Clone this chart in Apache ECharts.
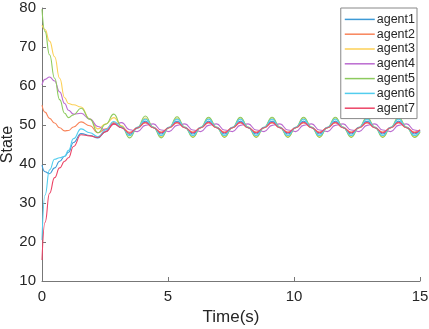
<!DOCTYPE html>
<html>
<head>
<meta charset="utf-8">
<script src="https://cdn.jsdelivr.net/npm/echarts@6/dist/echarts.min.js"></script>
<style>
html, body { margin: 0; padding: 0; background: #fff; }
#chart { width: 429px; height: 329px; }
</style>
</head>
<body>
<div id="chart"></div>
<script>
// time samples (s)
var timeS = [0, 0.12, 0.3, 0.5, 0.7, 0.9, 1.05, 1.25, 1.55, 1.9, 2.22, 2.53,
    2.85, 3.16, 3.48, 3.79,
    4.10, 4.42, 4.73, 5.04,
    5.36, 5.67, 5.99, 6.30,
    6.61, 6.93, 7.24, 7.56,
    7.87, 8.18, 8.50, 8.81,
    9.13, 9.44, 9.76, 10.07,
    10.38, 10.70, 11.01, 11.33,
    11.64, 11.95, 12.27, 12.58,
    12.90, 13.21, 13.52, 13.84,
    14.15, 14.47, 14.78, 15.0];

var agentNames = ['agent1', 'agent2', 'agent3', 'agent4', 'agent5', 'agent6', 'agent7'];
var agentColors = ['#3d9ad6', '#f8845a', '#fcd056', '#bb6bd0', '#8dca5e', '#52cdee', '#ec4466'];

var agent1 = [39.7, 38.0, 37.5, 39.0, 40.7, 42.0, 43.0, 45.5, 47.8, 47.3, 46.7, 48.3,
    50.4, 49.3, 47.6, 49.2,
    51.0, 49.3, 47.7, 49.3,
    51.0, 49.3, 47.7, 49.3,
    51.0, 49.3, 47.7, 49.3,
    51.0, 49.3, 47.7, 49.3,
    51.0, 49.3, 47.7, 49.3,
    51.0, 49.3, 47.7, 49.3,
    51.0, 49.3, 47.7, 49.3,
    51.0, 49.3, 47.7, 49.3,
    51.0, 49.3, 47.7, 48.6];
var agent2 = [55.1, 53.3, 51.7, 50.5, 49.3, 48.5, 48.6, 49.5, 50.8, 49.8, 48.0, 49.0,
    50.6, 49.4, 48.1, 49.3,
    50.5, 49.3, 48.2, 49.3,
    50.5, 49.3, 48.2, 49.3,
    50.5, 49.3, 48.2, 49.3,
    50.5, 49.3, 48.2, 49.3,
    50.5, 49.3, 48.2, 49.3,
    50.5, 49.3, 48.2, 49.3,
    50.5, 49.3, 48.2, 49.3,
    50.5, 49.3, 48.2, 49.3,
    50.5, 49.3, 48.2, 48.8];
var agent3 = [75.6, 74.5, 71.5, 67.5, 62.0, 57.0, 55.5, 55.2, 54.6, 51.5, 49.0, 50.3,
    51.9, 49.8, 47.2, 49.3,
    51.8, 49.5, 47.0, 49.3,
    51.8, 49.5, 47.0, 49.3,
    51.8, 49.5, 47.0, 49.3,
    51.8, 49.5, 47.0, 49.3,
    51.8, 49.5, 47.0, 49.3,
    51.8, 49.5, 47.0, 49.3,
    51.8, 49.5, 47.0, 49.3,
    51.8, 49.5, 47.0, 49.3,
    51.8, 49.5, 47.0, 48.3];
var agent4 = [60.3, 61.7, 62.3, 61.3, 58.5, 55.5, 53.8, 52.8, 53.0, 51.5, 49.6, 48.7,
    50.2, 50.6, 48.8, 48.3,
    49.9, 50.3, 48.7, 48.3,
    49.9, 50.3, 48.7, 48.3,
    49.9, 50.3, 48.7, 48.3,
    49.9, 50.3, 48.7, 48.3,
    49.9, 50.3, 48.7, 48.3,
    49.9, 50.3, 48.7, 48.3,
    49.9, 50.3, 48.7, 48.3,
    49.9, 50.3, 48.7, 48.3,
    49.9, 50.3, 48.7, 48.2];
var agent5 = [79.7, 74.0, 68.0, 62.0, 56.5, 53.0, 51.9, 52.6, 54.3, 51.5, 48.0, 50.2,
    52.8, 49.6, 46.7, 49.4,
    52.3, 49.4, 46.7, 49.4,
    52.1, 49.4, 46.8, 49.4,
    52.0, 49.4, 46.8, 49.4,
    52.0, 49.4, 46.8, 49.4,
    52.0, 49.4, 46.8, 49.4,
    52.0, 49.4, 46.8, 49.4,
    52.0, 49.4, 46.8, 49.4,
    52.0, 49.4, 46.8, 49.4,
    52.0, 49.4, 46.8, 48.2];
var agent6 = [20.5, 32.0, 38.5, 41.2, 41.6, 42.0, 43.5, 46.5, 49.0, 48.0, 47.0, 48.8,
    50.9, 49.4, 47.3, 49.4,
    51.5, 49.4, 47.3, 49.4,
    51.5, 49.4, 47.3, 49.4,
    51.5, 49.4, 47.3, 49.4,
    51.5, 49.4, 47.3, 49.4,
    51.5, 49.4, 47.3, 49.4,
    51.5, 49.4, 47.3, 49.4,
    51.5, 49.4, 47.3, 49.4,
    51.5, 49.4, 47.3, 49.4,
    51.5, 49.4, 47.3, 48.5];
var agent7 = [15.4, 25.0, 32.5, 36.5, 39.0, 40.7, 41.6, 44.5, 47.5, 47.2, 46.8, 48.3,
    50.3, 49.3, 47.9, 49.3,
    50.7, 49.3, 48.0, 49.3,
    50.7, 49.3, 48.0, 49.3,
    50.7, 49.3, 48.0, 49.3,
    50.7, 49.3, 48.0, 49.3,
    50.7, 49.3, 48.0, 49.3,
    50.7, 49.3, 48.0, 49.3,
    50.7, 49.3, 48.0, 49.3,
    50.7, 49.3, 48.0, 49.3,
    50.7, 49.3, 48.0, 48.7];

var agentValues = [agent1, agent2, agent3, agent4, agent5, agent6, agent7];

var chart = echarts.init(document.getElementById('chart'));

function pairUp(values) {
    var out = [];
    for (var i = 0; i < timeS.length; i++) {
        out.push([timeS[i], values[i]]);
    }
    return out;
}

var seriesList = [];
for (var k = 0; k < agentNames.length; k++) {
    seriesList.push({
        name: agentNames[k],
        type: 'line',
        data: pairUp(agentValues[k]),
        smooth: 0.5,
        smoothMonotone: 'x',
        symbol: 'none',
        color: agentColors[k],
        lineStyle: { width: 1.1, color: agentColors[k] }
    });
}

var axisGray = '#777777';
var textDark = '#262626';

var option = {
    animation: false,
    textStyle: { fontFamily: 'Liberation Sans, Arial, sans-serif' },
    grid: { left: 42, right: 9, top: 8, bottom: 48, outerBoundsMode: 'none', containLabel: false },
    legend: {
        orient: 'vertical',
        right: 12,
        top: 8,
        padding: [4, 2, 3, 4],
        icon: 'rect',
        itemWidth: 30,
        itemHeight: 1.5,
        itemGap: 0,
        backgroundColor: '#ffffff',
        borderColor: '#888888',
        borderWidth: 1,
        textStyle: { fontSize: 12.5, color: textDark, padding: [0, 0, 0, -3], lineHeight: 14.8 },
        data: agentNames
    },
    xAxis: {
        type: 'value',
        min: 0,
        max: 15,
        interval: 5,
        name: 'Time(s)',
        nameLocation: 'middle',
        nameGap: 28,
        nameMoveOverlap: false,
        nameTextStyle: { fontSize: 17, color: textDark },
        axisLine: { lineStyle: { color: axisGray, width: 1 } },
        axisTick: { inside: true, length: 4, lineStyle: { color: axisGray } },
        axisLabel: { fontSize: 15, color: textDark, margin: 8 },
        splitLine: { show: false }
    },
    yAxis: {
        type: 'value',
        min: 10,
        max: 80,
        interval: 10,
        name: 'State',
        nameLocation: 'middle',
        nameGap: 26,
        nameMoveOverlap: false,
        nameTextStyle: { fontSize: 16, color: textDark },
        axisLine: { show: true, lineStyle: { color: axisGray, width: 1 } },
        axisTick: { show: true, inside: true, length: 4, lineStyle: { color: axisGray } },
        axisLabel: { fontSize: 15, color: textDark, margin: 6 },
        splitLine: { show: false }
    },
    series: seriesList
};

chart.setOption(option);
window.addEventListener('resize', chart.resize);
</script>
</body>
</html>
